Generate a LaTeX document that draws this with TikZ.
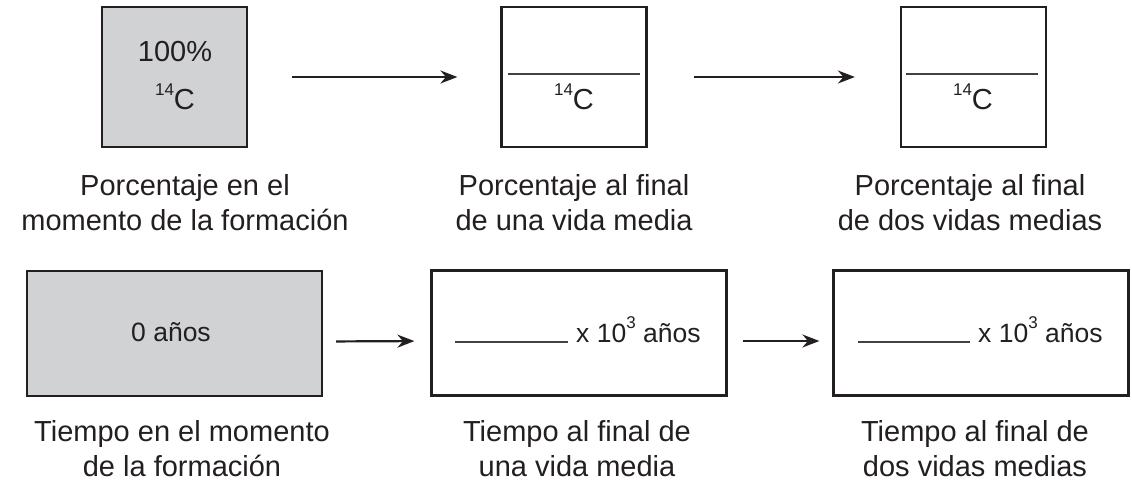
\documentclass[tikz,border=0pt]{standalone}
\usepackage{fontspec}
\setmainfont{Liberation Sans}
\usetikzlibrary{arrows.meta}
\definecolor{ink}{HTML}{231F20}
\definecolor{boxgray}{HTML}{D1D2D4}
\newcommand{\supnum}[1]{\raisebox{0.5em}{\fontsize{17}{17}\selectfont #1}}
\tikzset{
  x=1pt, y=-1pt,
  sqbox/.style={draw=ink, line width=2.2pt, minimum width=145pt, minimum height=140pt, inner sep=0pt},
  widebox/.style={draw=ink, line width=2.2pt, minimum width=295pt, minimum height=125pt, inner sep=0pt},
  shaded/.style={fill=boxgray},
  bigtxt/.style={inner sep=0pt, font=\fontsize{29}{29}\selectfont, text=ink},
  midtxt/.style={inner sep=0pt, font=\fontsize{26.5}{26.5}\selectfont, text=ink},
  caption/.style={inner sep=0pt, align=center, font=\fontsize{29}{35}\selectfont, text=ink},
  flow/.style={draw=ink, line width=2.2pt, -{Stealth[length=17pt,width=13pt]}},
  blank/.style={draw=ink!85, line width=1.2pt},
}
\begin{document}
\begin{tikzpicture}
\useasboundingbox (0,0) rectangle (1132,484);
% top row boxes
\node[sqbox, shaded] (t1) at (174.5,77) {};
\node[sqbox] (t2) at (574,77) {};
\node[sqbox] (t3) at (973.5,77) {};
% contents
\node[bigtxt] (p100) at (175,52) {100\%};
\node[bigtxt] (c1) at (175,97) {\supnum{14}C};
\coordinate (l2a) at (508,74); \coordinate (l2b) at (640,74);
\draw[blank] (l2a) -- (l2b);
\node[bigtxt] (c2) at (574,97) {\supnum{14}C};
\coordinate (l3a) at (906,74); \coordinate (l3b) at (1038,74);
\draw[blank] (l3a) -- (l3b);
\node[bigtxt] (c3) at (973,97) {\supnum{14}C};
% top arrows
\draw[flow, shorten <=44pt, shorten >=43pt] (t1) -- (t2);
\draw[flow, shorten <=46pt, shorten >=45pt] (t2) -- (t3);
% top captions
\node[caption] (cap1) at (185,203) {Porcentaje en el\\momento de la formación};
\node[caption] (cap2) at (574,203) {Porcentaje al final\\de una vida media};
\node[caption] (cap3) at (970,203) {Porcentaje al final\\de dos vidas medias};
% bottom boxes
\node[widebox, shaded] (b1) at (174.5,333.5) {};
\node[widebox] (b2) at (579,333) {};
\node[widebox] (b3) at (981,333) {};
\node[midtxt] (z0) at (171,332) {0 años};
\coordinate (u2a) at (455,342); \coordinate (u2b) at (568,342);
\draw[blank] (u2a) -- (u2b);
\node[midtxt, anchor=base west] (y2) at (576,342) {x 10\supnum{3} años};
\coordinate (u3a) at (858,342); \coordinate (u3b) at (970,342);
\draw[blank] (u3a) -- (u3b);
\node[midtxt, anchor=base west] (y3) at (978,342) {x 10\supnum{3} años};
% bottom arrows
\draw[flow, shorten <=13pt, shorten >=16pt] ([yshift=-8pt]b1.east) -- ([yshift=-8pt]b2.west);
\draw[flow, shorten <=15pt, shorten >=13pt] ([yshift=-8pt]b2.east) -- ([yshift=-8pt]b3.west);
% bottom captions
\node[caption] (cap4) at (182,449) {Tiempo en el momento\\de la formación};
\node[caption] (cap5) at (577,449) {Tiempo al final de\\una vida media};
\node[caption] (cap6) at (975,449) {Tiempo al final de\\dos vidas medias};
\end{tikzpicture}
\end{document}
